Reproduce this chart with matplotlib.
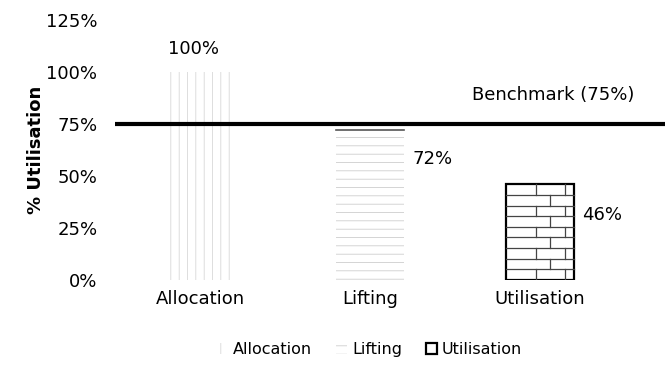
import matplotlib.pyplot as plt
import numpy as np

plt.rcParams['font.family'] = ['DejaVu Sans']

categories = ["Allocation", "Lifting", "Utilisation"]
utilisation = [100, 72, 46]
value_labels = ["100%", "72%", "46%"]
benchmark = 75
y_ticks = [0, 25, 50, 75, 100, 125]
y_tick_labels = ["0%", "25%", "50%", "75%", "100%", "125%"]

FS = 13

fig = plt.figure(figsize=(6.65, 3.85), dpi=100, facecolor='w')
ax = fig.add_axes([0.173, 0.273, 0.827, 0.675])

x = np.arange(len(categories))
bar_w = 0.4

plt.rcParams['hatch.linewidth'] = 0.5
bars = ax.bar(x, utilisation, width=bar_w, color='white', zorder=2)

# allocation: faint vertical columns
bars[0].set_hatch('||')
bars[0].set_edgecolor('#d0d0d0')
bars[0].set_linewidth(0)
# lifting: faint horizontal rows
bars[1].set_hatch('--')
bars[1].set_edgecolor('#c4c4c4')
bars[1].set_linewidth(0)
ax.plot([x[1] - bar_w / 2, x[1] + bar_w / 2], [utilisation[1], utilisation[1]],
        color='#555555', lw=1.2, zorder=3)

# utilisation: brick pattern drawn inside the bar
b = bars[2]
b.set_edgecolor('black')
b.set_linewidth(1.6)
bx0, bw, bh = b.get_x(), b.get_width(), b.get_height()
row_h = bh / 9.0
brick_w = bw / 2.3
for r in range(9):
    y0 = r * row_h
    if r > 0:
        ax.plot([bx0, bx0 + bw], [y0, y0], color='#444444', lw=0.9, zorder=3)
    offs = (brick_w / 2) if r % 2 else 0.0
    xs = bx0 + offs + brick_w * np.arange(1, 4)
    for xv in xs:
        if bx0 < xv < bx0 + bw:
            ax.plot([xv, xv], [y0, y0 + row_h], color='#444444', lw=0.9, zorder=3)

ax.axhline(benchmark, color='black', lw=3, zorder=4)
ax.text(2.08, benchmark + 14, "Benchmark (75%)", ha='center', va='center', fontsize=FS)

ax.text(x[0] - 0.04, utilisation[0] + 11, value_labels[0], ha='center', va='center', fontsize=FS)
ax.text(x[1] + bar_w / 2 + 0.05, utilisation[1] - 14, value_labels[1], ha='left', va='center', fontsize=FS)
ax.text(x[2] + bar_w / 2 + 0.05, utilisation[2] - 15, value_labels[2], ha='left', va='center', fontsize=FS)

ax.set_xlim(-0.5, 2.735)
ax.set_ylim(0, 125)
ax.set_yticks(y_ticks)
ax.set_yticklabels(y_tick_labels, fontsize=FS)
ax.set_xticks(x)
ax.set_xticklabels(categories, fontsize=FS)
ax.tick_params(length=0)
ax.tick_params(axis='y', pad=12.7)
ax.tick_params(axis='x', pad=7)
for s in ax.spines.values():
    s.set_visible(False)
ax.set_ylabel("% Utilisation", fontsize=FS, fontweight='bold', labelpad=1)

handles = [bars[0], bars[1], bars[2]]
fig.legend(handles, categories, loc='center', bbox_to_anchor=(0.556, 0.091), ncol=3,
           frameon=False, fontsize=11.5, handlelength=0.7, handleheight=0.7,
           handletextpad=0.3, columnspacing=1.5)

fig.savefig("out.png", dpi=100)
